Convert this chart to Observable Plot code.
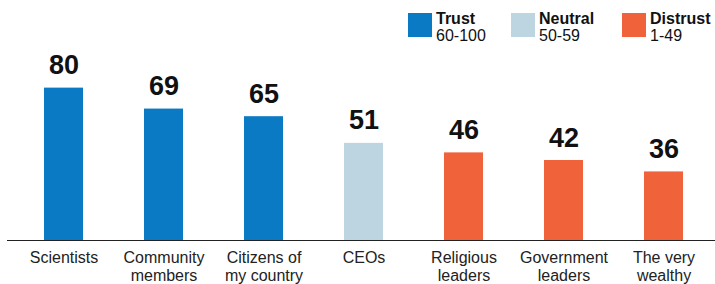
<!DOCTYPE html>
<html>
<head>
<meta charset="utf-8">
<script src="https://cdn.jsdelivr.net/npm/d3@7"></script>
<script src="https://cdn.jsdelivr.net/npm/@observablehq/plot@0.6"></script>
<style>
  body { margin: 0; background: #fff; font-family: "Liberation Sans", Arial, sans-serif; }
  #wrap { position: relative; width: 715px; height: 284px; overflow: hidden; }
  .leg { position: absolute; top: 0; display: flex; align-items: flex-start; }
  .sw { width: 24px; height: 24px; margin-top: 13px; margin-right: 4px; }
  .lt { margin-top: 10px; font-size: 16px; line-height: 17px; color: #111; }
  .lt b { font-weight: bold; }
</style>
</head>
<body>
<div id="wrap"></div>
<script>
const categories = ["Scientists", "Community\nmembers", "Citizens of\nmy country", "CEOs", "Religious\nleaders", "Government\nleaders", "The very\nwealthy"];
const values = [80, 69, 65, 51, 46, 42, 36];
const legendNames = ["Trust", "Neutral", "Distrust"];
const legendRanges = ["60-100", "50-59", "1-49"];
const colors = ["#0a7ac4", "#bdd5e1", "#f06239"];

const data = categories.map((c, i) => ({category: c, value: values[i]}));

const chart = Plot.plot({
  width: 715,
  height: 284,
  marginTop: 0,
  marginBottom: 44,
  marginLeft: 7,
  marginRight: 0,
  style: {fontFamily: "'Liberation Sans', Arial, sans-serif", background: "transparent"},
  x: {domain: categories, range: [11, 715], paddingInner: 0.612, paddingOuter: 0.306, axis: null},
  y: {domain: [0, 126], axis: null},
  color: {type: "threshold", domain: [50, 60], range: [colors[2], colors[1], colors[0]]},
  marks: [
    Plot.barY(data, {x: "category", y: "value", fill: d => d.value}),
    Plot.ruleY([0], {stroke: "#222", strokeWidth: 1}),
    Plot.text(data, {x: "category", y: "value", text: d => String(d.value), lineAnchor: "bottom", dy: -14, fontSize: 27, fontWeight: "bold", fill: "#111"}),
    Plot.axisX({domain: categories, tickSize: 0, tickPadding: 9, fontSize: 16, lineHeight: 1.15, color: "#222", label: null})
  ]
});

const wrap = document.getElementById("wrap");
wrap.appendChild(chart);

const lefts = [408, 511, 622];
legendNames.forEach((n, i) => {
  const item = document.createElement("div");
  item.className = "leg";
  item.style.left = lefts[i] + "px";
  item.innerHTML = `<div class="sw" style="background:${colors[i]}"></div><div class="lt"><b>${n}</b><br>${legendRanges[i]}</div>`;
  wrap.appendChild(item);
});
</script>
</body>
</html>
